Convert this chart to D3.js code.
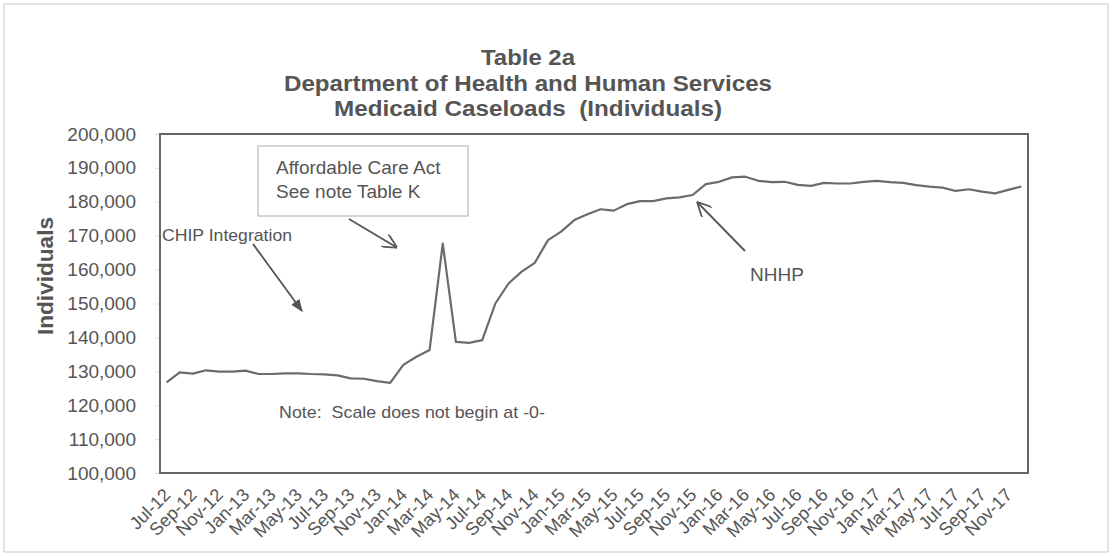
<!DOCTYPE html>
<html>
<head>
<meta charset="utf-8">
<script src="https://cdn.jsdelivr.net/npm/d3@7"></script>
<style>
  body { margin: 0; background: #fff; }
  text { font-family: "Liberation Sans", Arial, sans-serif; fill: #555; white-space: pre; }
</style>
</head>
<body>
<div id="container"></div>
<script>
// Chart size
const width = 1112;
const height = 556;
const margin = {top: 134, right: 84, bottom: 83, left: 160};

// Months Jul-12 .. Dec-17
const months = d3.timeMonths(new Date(2012, 6, 1), new Date(2018, 0, 1));
const fmt = d3.timeFormat("%b-%y");
const categories = months.map(fmt);

// Medicaid caseloads (individuals)
const caseloads = [
  126700, 129700, 129300, 130300, 129900, 129900, 130200, 129200, 129200, 129400,
  129400, 129200, 129100, 128800, 127900, 127800, 127100, 126600, 131900, 134300,
  136300, 167700, 138700, 138400, 139200, 150000, 155900, 159400, 162000, 168700,
  171200, 174600, 176300, 177800, 177400, 179300, 180200, 180200, 181000, 181300,
  182000, 185200, 185900, 187200, 187400, 186200, 185800, 185900, 185000, 184700,
  185600, 185400, 185400, 185900, 186200, 185800, 185600, 184900, 184500, 184200,
  183200, 183700, 183000, 182500, 183500, 184500
];

// Every second month gets a label
const tickLabels = categories.filter((d, i) => i % 2 === 0);
const yTicks = d3.range(100000, 200001, 10000);

const titleLines = [
  "Table 2a",
  "Department of Health and Human Services",
  "Medicaid Caseloads  (Individuals)"
];
const titleWidths = [94, 488, 388];

const svg = d3.select('#container')
  .append('svg')
  .attr('width', width)
  .attr('height', height);

// Light outer frame
svg.append('rect')
  .attr('x', 4).attr('y', 4)
  .attr('width', width - 8).attr('height', height - 8)
  .attr('fill', 'none')
  .attr('stroke', '#c8c8c8')
  .attr('stroke-width', 1);

const innerW = width - margin.left - margin.right;
const innerH = height - margin.top - margin.bottom;

const x = d3.scaleBand()
  .domain(categories)
  .range([margin.left, margin.left + innerW]);

const y = d3.scaleLinear()
  .domain([100000, 200000])
  .range([margin.top + innerH, margin.top]);

// Title
svg.append('g')
  .selectAll('text')
  .data(titleLines)
  .enter().append('text')
  .attr('x', 528)
  .attr('y', (d, i) => 65 + i * 25.5)
  .attr('text-anchor', 'middle')
  .attr('textLength', (d, i) => titleWidths[i])
  .attr('lengthAdjust', 'spacingAndGlyphs')
  .style('font-weight', 'bold')
  .style('font-size', '22px')
  .text(d => d);

// Y axis
const yAxis = svg.append('g')
  .attr('transform', `translate(${margin.left},0)`)
  .call(d3.axisLeft(y).tickValues(yTicks).tickSize(5).tickPadding(19)
    .tickFormat(d3.format(',')));
yAxis.select('.domain').remove();
yAxis.selectAll('line').attr('stroke', '#ddd');
yAxis.selectAll('text')
  .style('font-size', '19px')
  .style('fill', '#555');

// X axis
const xAxis = svg.append('g')
  .attr('transform', `translate(0,${margin.top + innerH})`)
  .call(d3.axisBottom(x).tickValues(tickLabels).tickSize(0).tickPadding(0));
xAxis.select('.domain').remove();
xAxis.selectAll('text')
  .attr('text-anchor', 'end')
  .attr('y', 0)
  .attr('dy', 0)
  .attr('transform', 'translate(5,23) rotate(-45)')
  .style('font-size', '18px')
  .style('fill', '#555');

// Plot frame
svg.append('rect')
  .attr('x', margin.left).attr('y', margin.top)
  .attr('width', innerW).attr('height', innerH)
  .attr('fill', 'none')
  .attr('stroke', '#666')
  .attr('stroke-width', 2);

// Y axis title
svg.append('text')
  .attr('transform', 'translate(53,276) rotate(-90)')
  .attr('text-anchor', 'middle')
  .attr('textLength', 118)
  .attr('lengthAdjust', 'spacingAndGlyphs')
  .style('font-weight', 'bold')
  .style('font-size', '22px')
  .text('Individuals');

// Caseload line
const line = d3.line()
  .x((d, i) => x(categories[i]) + x.bandwidth() / 2)
  .y(d => y(d));

svg.append('path')
  .datum(caseloads)
  .attr('d', line)
  .attr('fill', 'none')
  .attr('stroke', '#6b6b6b')
  .attr('stroke-width', 2.2)
  .attr('stroke-linejoin', 'round');

// Annotations
const defs = svg.append('defs');
defs.append('marker')
  .attr('id', 'filled')
  .attr('viewBox', '0 0 10 10')
  .attr('refX', 9).attr('refY', 5)
  .attr('markerWidth', 7).attr('markerHeight', 7)
  .attr('orient', 'auto')
  .append('path')
  .attr('d', 'M0,1 L10,5 L0,9 Z')
  .attr('fill', '#555');
defs.append('marker')
  .attr('id', 'open')
  .attr('viewBox', '0 0 10 10')
  .attr('refX', 9).attr('refY', 5)
  .attr('markerWidth', 8).attr('markerHeight', 8)
  .attr('orient', 'auto')
  .append('path')
  .attr('d', 'M0,0 L10,5 L0,10')
  .attr('fill', 'none')
  .attr('stroke', '#555')
  .attr('stroke-width', 1.2);

const arrow = (x1, y1, x2, y2, m) => svg.append('line')
  .attr('x1', x1).attr('y1', y1).attr('x2', x2).attr('y2', y2)
  .attr('stroke', '#555').attr('stroke-width', 1.8)
  .attr('marker-end', `url(#${m})`);

// Affordable Care Act box
svg.append('rect')
  .attr('x', 258).attr('y', 146)
  .attr('width', 210).attr('height', 70)
  .attr('fill', 'none')
  .attr('stroke', '#bbb')
  .attr('stroke-width', 1.2);
svg.append('text').attr('x', 276).attr('y', 174)
  .style('font-size', '19px').text('Affordable Care Act');
svg.append('text').attr('x', 276).attr('y', 198)
  .style('font-size', '19px').text('See note Table K');
arrow(349, 219, 396, 247, 'open');

svg.append('text').attr('x', 162).attr('y', 241)
  .attr('textLength', 130).attr('lengthAdjust', 'spacingAndGlyphs')
  .style('font-size', '17px').text('CHIP Integration');
arrow(253, 244, 302, 311, 'filled');

svg.append('text').attr('x', 750).attr('y', 281)
  .style('font-size', '19px').text('NHHP');
arrow(745, 251, 698, 203, 'open');

svg.append('text').attr('x', 279).attr('y', 418)
  .attr('textLength', 266).attr('lengthAdjust', 'spacingAndGlyphs')
  .style('font-size', '17px')
  .text('Note:  Scale does not begin at -0-');
</script>
</body>
</html>
